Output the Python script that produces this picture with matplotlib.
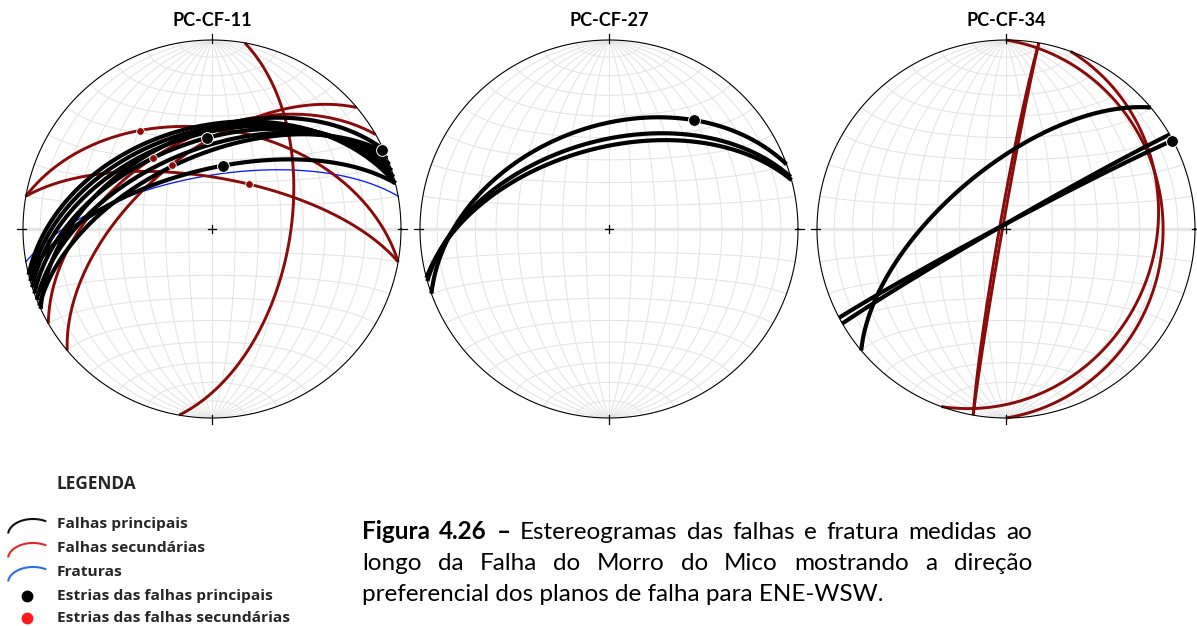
import numpy as np
import matplotlib.pyplot as plt

W, H = 1197, 626
DPI = 100

# ---------------------------------------------------------------- data
titles = ["PC-CF-11", "PC-CF-27", "PC-CF-34"]

# planes as (dip direction, dip) in degrees; lineations as (trend, plunge)
cf11_main = [(346, 44.6), (344, 46.5), (342, 48.5), (340, 51.3),
             (338, 55.0), (336, 58.0), (335, 48.0), (346, 64.2)]
cf11_secondary = [(100, 56.0), (10, 67.8), (10, 46.0), (330, 50.0), (320, 57.3)]
cf11_fractures = [(350, 67.0)]
cf11_main_striae = [(357, 50.0), (9.6, 62.2), (65, 1.0)]
cf11_secondary_striae = [(323.8, 35.7), (320, 49.6), (328, 57.0), (39.9, 64.8)]

cf27_main = [(340, 44.8), (344, 51.5), (345, 54.6)]
cf27_secondary = []
cf27_fractures = []
cf27_main_striae = [(37.9, 27.8)]
cf27_secondary_striae = []

cf34_main = [(320, 64.0), (332, 88.0), (330, 88.0)]
cf34_secondary = [(280, 88.5), (280, 87.2), (90, 18.0), (110, 22.0)]
cf34_fractures = []
cf34_main_striae = [(62.1, 0.5)]
cf34_secondary_striae = []

nets = [
    dict(main=cf11_main, sec=cf11_secondary, frac=cf11_fractures,
         mst=cf11_main_striae, sst=cf11_secondary_striae),
    dict(main=cf27_main, sec=cf27_secondary, frac=cf27_fractures,
         mst=cf27_main_striae, sst=cf27_secondary_striae),
    dict(main=cf34_main, sec=cf34_secondary, frac=cf34_fractures,
         mst=cf34_main_striae, sst=cf34_secondary_striae),
]

legend_title = "LEGENDA"
legend_labels = ["Falhas principais", "Falhas secundárias", "Fraturas",
                 "Estrias das falhas principais", "Estrias das falhas secundárias"]
caption_line1 = ["Figura", "4.26", "–", "Estereogramas", "das", "falhas", "e",
                 "fratura", "medidas", "ao"]
caption_bold = 3
caption_line2 = ["longo", "da", "Falha", "do", "Morro", "do", "Mico",
                 "mostrando", "a", "direção"]
caption_line3 = "preferencial dos planos de falha para ENE-WSW."

# ---------------------------------------------------------------- style
C_MAIN = "#000000"
C_SEC = "#8b0a0a"
C_FRAC = "#0a1cff"
C_GRID = "#e4e4e4"
LEG_FONT = "Open Sans"
CAP_FONT = "Lato"


# ---------------------------------------------------------------- projection (Schmidt, lower hemisphere)
def project(E, N, D):
    f = 1.0 / np.sqrt(1.0 + D)
    return E * f, N * f


def great_circle(dd, dip, n=400):
    a = np.radians(dd)
    s = np.array([np.sin(a - np.pi / 2), np.cos(a - np.pi / 2), 0.0])
    d = np.radians(dip)
    v = np.array([np.cos(d) * np.sin(a), np.cos(d) * np.cos(a), np.sin(d)])
    th = np.linspace(0, np.pi, n)
    vec = np.outer(np.cos(th), s) + np.outer(np.sin(th), v)
    return project(*vec.T)


def lineation(trend, plunge):
    t, p = np.radians(trend), np.radians(plunge)
    return project(np.cos(p) * np.sin(t), np.cos(p) * np.cos(t), np.sin(p))


def draw_grid(ax):
    t = np.linspace(-np.pi / 2, np.pi / 2, 300)
    for lam in range(-80, 90, 10):
        l = np.radians(lam)
        x, y = project(np.cos(t) * np.sin(l), np.sin(t), np.cos(t) * np.cos(l))
        ax.plot(x, y, color=C_GRID, lw=0.75, zorder=1)
    for phi in range(-80, 90, 10):
        if phi == 0:
            continue
        p = np.radians(phi)
        x, y = project(np.cos(p) * np.sin(t), np.full_like(t, np.sin(p)),
                       np.cos(p) * np.cos(t))
        ax.plot(x, y, color=C_GRID, lw=0.75, zorder=1)
    ax.plot([-1, 1], [0, 0], color="#e6e6e6", lw=2.4, zorder=1)
    c = np.linspace(0, 2 * np.pi, 600)
    ax.plot(np.cos(c), np.sin(c), color="black", lw=0.8, zorder=6)
    k = 0.022
    for ang in (0, 90, 180, 270):
        a = np.radians(ang)
        ax.plot([0.985 * np.sin(a), 1.03 * np.sin(a)],
                [0.985 * np.cos(a), 1.03 * np.cos(a)], color="black", lw=0.9, zorder=6)
    ax.plot([-k, k], [0, 0], color="black", lw=0.9, zorder=6)
    ax.plot([0, 0], [-k, k], color="black", lw=0.9, zorder=6)


fig = plt.figure(figsize=(W / DPI, H / DPI), dpi=DPI)

R = 189.0
centers = [(212, 229), (609, 229), (1006, 229)]
half = 1.1
for (cx, cy), title, net in zip(centers, titles, nets):
    size = 2 * half * R
    ax = fig.add_axes([(cx - half * R) / W, (H - cy - half * R) / H, size / W, size / H])
    ax.set_xlim(-half, half)
    ax.set_ylim(-half, half)
    ax.set_aspect("equal")
    ax.axis("off")
    draw_grid(ax)
    for dd, dip in net["frac"]:
        ax.plot(*great_circle(dd, dip), color=C_FRAC, lw=0.95, zorder=3)
    for dd, dip in net["sec"]:
        ax.plot(*great_circle(dd, dip), color=C_SEC, lw=2.1, zorder=4,
                solid_capstyle="butt")
    for dd, dip in net["main"]:
        ax.plot(*great_circle(dd, dip), color=C_MAIN, lw=3.0, zorder=5,
                solid_capstyle="butt")
    for tr, pl in net["sst"]:
        x, y = lineation(tr, pl)
        ax.plot(x, y, "o", ms=5.5, color=C_SEC, mec="white", mew=0.6, zorder=7)
    for tr, pl in net["mst"]:
        x, y = lineation(tr, pl)
        ax.plot(x, y, "o", ms=8.5, color="black", mec="white", mew=0.7, zorder=7)
    fig.text(cx / W, 1 - 20 / H, title, ha="center", va="center",
             fontsize=13, fontweight="bold", family="Lato")

fig.canvas.draw()
renderer = fig.canvas.get_renderer()


def text_width(s, size, family, weight="normal"):
    t = fig.text(0, 0, s, fontsize=size, family=family, fontweight=weight)
    w = t.get_window_extent(renderer).width
    t.remove()
    return w


# ---------------------------------------------------------------- legend
leg_size = 10 * 130 / text_width(legend_labels[0], 10, LEG_FONT, "bold")
ttl_size = 10 * 80 / text_width(legend_title, 10, LEG_FONT, "bold")
fig.text(57 / W, 1 - 484 / H, legend_title, ha="left", va="center", fontsize=ttl_size,
         fontweight="bold", family=LEG_FONT, color="#262626")
rows = [524, 548, 572, 596, 618]
for lab, y in zip(legend_labels, rows):
    fig.text(57 / W, 1 - y / H, lab, ha="left", va="center", fontsize=leg_size,
             fontweight="bold", family=LEG_FONT, color="#262626")

lax = fig.add_axes([0, 0, 1, 1])
lax.set_xlim(0, W)
lax.set_ylim(H, 0)
lax.axis("off")
tt = np.linspace(np.radians(172), np.radians(60), 60)
for y, col in zip(rows[:3], ["#111111", "#e8262a", "#2b6fe6"]):
    lax.plot(33 + 25 * np.cos(tt), y + 11 - 16 * np.sin(tt), color=col, lw=1.5,
             solid_capstyle="round")
lax.plot(27, rows[3], "o", ms=7.5, color="black")
lax.plot(27, rows[4], "o", ms=7.5, color="#ff1a1a")

# ---------------------------------------------------------------- caption
x0, x1 = 362, 1032
fs = 17.5


def justified(words, y, nbold=0):
    ws = [text_width(w, fs, CAP_FONT, "bold" if i < nbold else "normal")
          for i, w in enumerate(words)]
    gap = (x1 - x0 - sum(ws)) / (len(words) - 1)
    x = x0
    for i, (w, wd) in enumerate(zip(words, ws)):
        fig.text(x / W, 1 - y / H, w, ha="left", va="baseline", fontsize=fs,
                 family=CAP_FONT, fontweight="bold" if i < nbold else "normal")
        x += wd + gap


justified(caption_line1, 539, caption_bold)
justified(caption_line2, 570)
fig.text(x0 / W, 1 - 601 / H, caption_line3, ha="left", va="baseline",
         fontsize=fs, family=CAP_FONT)

fig.savefig("out.png", dpi=DPI)
